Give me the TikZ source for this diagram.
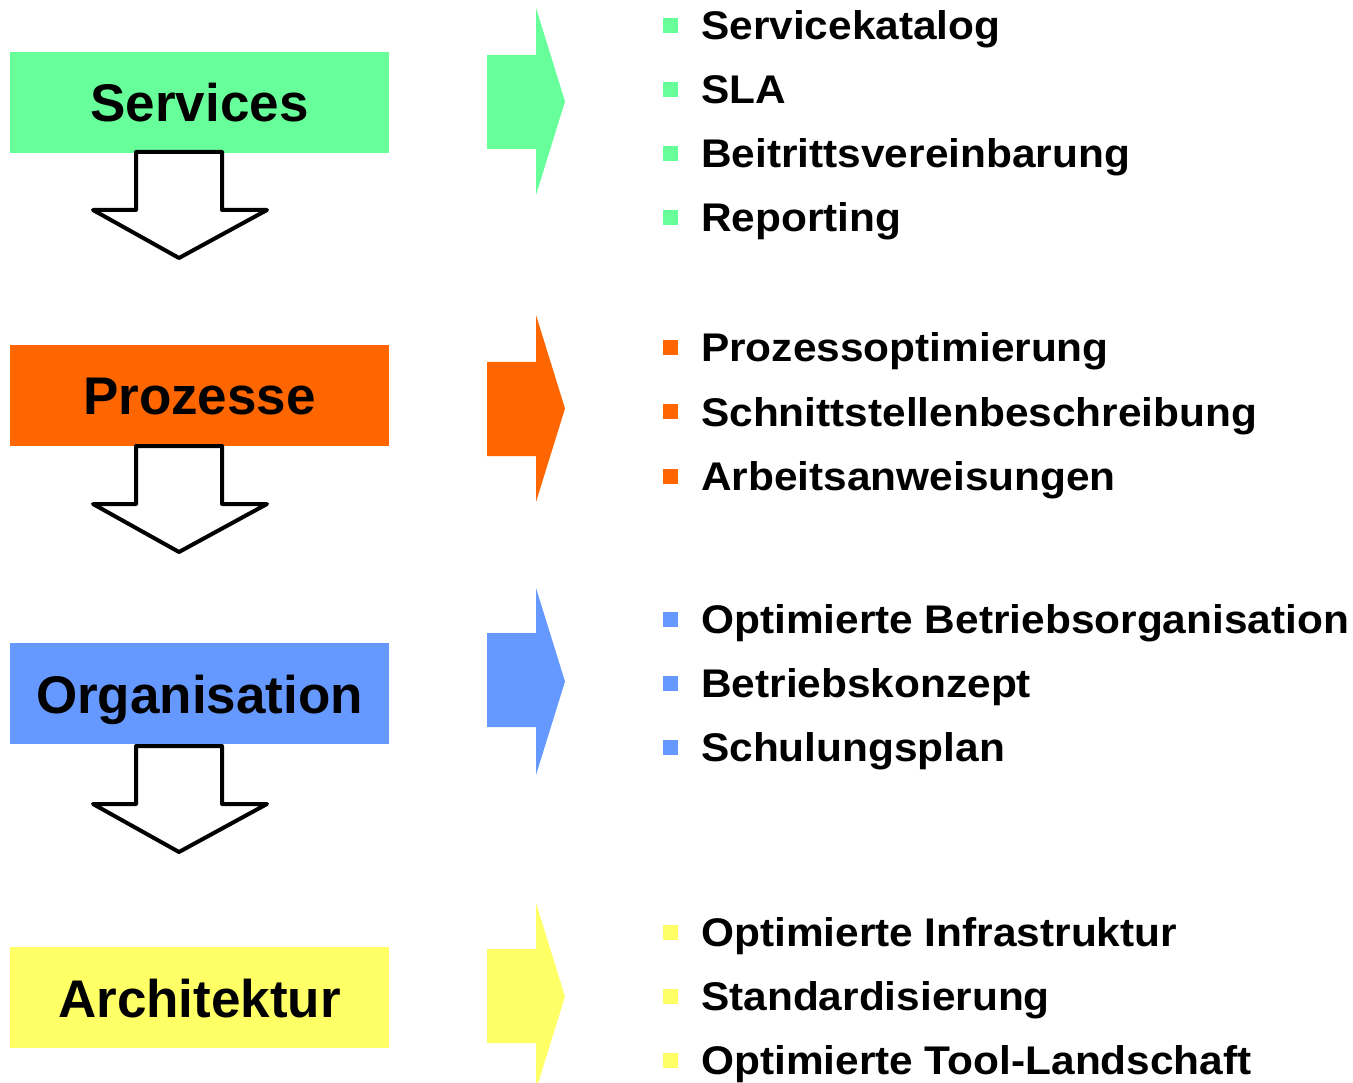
\documentclass[tikz,border=0pt]{standalone}
\usepackage{fontspec}
\setmainfont{Liberation Sans}
\newfontfamily\itemfont[FakeStretch=1.06]{Liberation Sans}
\definecolor{cgreen}{HTML}{66FF99}
\definecolor{corange}{HTML}{FF6600}
\definecolor{cblue}{HTML}{6699FF}
\definecolor{cyellow}{HTML}{FFFF66}
\tikzset{
  catbox/.style={fill=#1, draw=none, minimum width=379pt, minimum height=101pt, inner sep=0pt, anchor=north west},
  catlabel/.style={anchor=base, font=\fontsize{53}{60}\selectfont\bfseries, inner sep=0pt},
  downarrow/.style={draw=black, fill=white, line width=4pt, line join=round},
  rightarrow/.style={fill=#1, draw=none},
  item/.style={anchor=base west, font=\itemfont\fontsize{40}{46}\selectfont\bfseries, inner sep=0pt},
  bullet/.style={fill=#1, draw=none, minimum size=15pt, inner sep=0pt}
}
\newcommand{\rarrow}[3]{% color, shaft top y, head top y
  \fill[rightarrow=#1] (487,#2) -- (536,#2) -- (536,#3) -- (565,#3+93.5) -- (536,#3+187) -- (536,#2+94) -- (487,#2+94) -- cycle;
}
\newcommand{\darrow}[1]{% top y
  \draw[downarrow] (136,#1) -- (222,#1) -- (222,#1+58) -- (267,#1+58) -- (179,#1+106) -- (93,#1+58) -- (136,#1+58) -- cycle;
}
\newcommand{\bitem}[4]{% name, color, baseline y, text
  \node[bullet=#2] (b#1) at (670,#3-14) {};
  \node[item] (t#1) at (701,#3) {#4};
}
\begin{document}
\begin{tikzpicture}[x=1pt,y=-1pt]
\useasboundingbox (0,0) rectangle (1353,1083);
% boxes
\node[catbox=cgreen] (services) at (10,52) {};
\node[catbox=corange] (prozesse) at (10,345) {};
\node[catbox=cblue] (organisation) at (10,643) {};
\node[catbox=cyellow] (architektur) at (10,947) {};
% down arrows
\darrow{152}
\darrow{446}
\darrow{746}
\node[catlabel] (lservices) at (199.5,122) {Services};
\node[catlabel] (lprozesse) at (199.5,415) {Prozesse};
\node[catlabel] (lorganisation) at (199.5,713) {Organisation};
\node[catlabel] (larchitektur) at (199.5,1017) {Architektur};
% right arrows
\rarrow{cgreen}{55}{8}
\rarrow{corange}{362}{315}
\rarrow{cblue}{633}{588}
\rarrow{cyellow}{949}{903}
% items
\bitem{a1}{cgreen}{40}{Servicekatalog}
\bitem{a2}{cgreen}{104}{SLA}
\bitem{a3}{cgreen}{168}{Beitrittsvereinbarung}
\bitem{a4}{cgreen}{232}{Reporting}
\bitem{b1}{corange}{362}{Prozessoptimierung}
\bitem{b2}{corange}{426}{Schnittstellenbeschreibung}
\bitem{b3}{corange}{490}{Arbeitsanweisungen}
\bitem{c1}{cblue}{633}{Optimierte Betriebsorganisation}
\bitem{c2}{cblue}{697}{Betriebskonzept}
\bitem{c3}{cblue}{761}{Schulungsplan}
\bitem{d1}{cyellow}{946}{Optimierte Infrastruktur}
\bitem{d2}{cyellow}{1010}{Standardisierung}
\bitem{d3}{cyellow}{1074}{Optimierte Tool-Landschaft}
\end{tikzpicture}
\end{document}
